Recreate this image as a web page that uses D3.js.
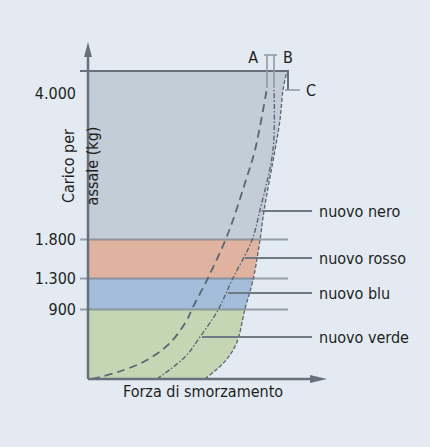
<!DOCTYPE html>
<html>
<head>
<meta charset="utf-8">
<script src="https://cdn.jsdelivr.net/npm/d3@7"></script>
<style>
  body { margin: 0; background: #e3eaf1; }
  text { font-family: "DejaVu Sans Condensed", "Liberation Sans Narrow", sans-serif; font-size: 16px; fill: #1e1e1e; }
</style>
</head>
<body>
<div id="container"></div>
<script>
// carico per asse (kg)
var yTicks = [900, 1300, 1800, 4000]
var yTickLabels = ['900', '1.300', '1.800', '4.000']
var bandBounds = [0, 900, 1300, 1800, 4500]
var bandNames = ['verde', 'blu', 'rosso', 'nero']

// curve: [forza, carico]
var curveA = [[2, 0], [15, 90], [29.5, 244], [41, 463], [49.5, 759], [52, 900], [60, 1300],
  [68.5, 1775], [72.5, 2086], [78.5, 2644], [83.5, 3141], [89.5, 4114]]
var curveB = [[34.5, 0], [48.5, 283], [56, 540], [65, 887], [72, 1274], [82, 1787],
  [86, 2237], [92.5, 3141], [93, 4114]]
var curveC = [[58.5, 0], [64, 116], [69.5, 257], [74.5, 476], [78.5, 900], [82.5, 1274], [86, 1787],
  [88, 2222], [93.5, 3141], [96, 3593], [97.5, 4068], [99.5, 4500]]

var seriesNames = ['nuovo nero', 'nuovo rosso', 'nuovo blu', 'nuovo verde']
var seriesLoads = [2222, 1556, 1106, 540]

var W = 430, H = 447
var svg = d3.select('#container').append('svg')
  .attr('width', W).attr('height', H)

var x = d3.scaleLinear().domain([0, 100]).range([88, 288])
var y = d3.scaleLinear()
  .domain([0, 900, 1300, 1800, 4000, 4500])
  .range([379, 309, 278, 239, 93, 71])

var bandColor = { verde: '#c5d6b5', blu: '#a3bddb', rosso: '#dfb3a0', nero: '#c2cdd7' }
var lineColor = '#66717c'

var line = d3.line()
  .x(d => x(d[0]))
  .y(d => y(d[1]))
  .curve(d3.curveCatmullRom)

// area a sinistra della curva C
var pathC = line(curveC)
svg.append('clipPath').attr('id', 'clipC')
  .append('path')
  .attr('d', 'M' + x(0) + ',' + y(0) + 'L' + pathC.slice(1) + 'L' + x(0) + ',' + y(4500) + 'Z')

var bands = svg.append('g').attr('clip-path', 'url(#clipC)')
bands.selectAll('rect')
  .data(bandNames)
  .enter().append('rect')
  .attr('x', x(0))
  .attr('width', x(100) - x(0) + 2)
  .attr('y', (d, i) => y(bandBounds[i + 1]))
  .attr('height', (d, i) => y(bandBounds[i]) - y(bandBounds[i + 1]))
  .attr('fill', d => bandColor[d])

// linee orizzontali / tick
var yAxis = d3.axisLeft(y)
  .tickValues(yTicks)
  .tickFormat((d, i) => yTickLabels[i])
  .tickSizeInner(-(x(100) - x(0)))
  .tickSizeOuter(0)
  .tickPadding(12)

var ax = svg.append('g')
  .attr('transform', 'translate(' + x(0) + ',0)')
  .call(yAxis)
ax.select('.domain').remove()
ax.selectAll('line')
  .attr('x1', -8)
  .attr('stroke', '#7b8790')
  .attr('stroke-width', 2)
  .attr('stroke-opacity', 0.75)
ax.selectAll('.tick').filter(d => d === 4000).select('line').remove()
ax.selectAll('text')
  .attr('fill', '#1e1e1e')
  .style('font-size', '16px')
  .style('font-family', '"DejaVu Sans Condensed", sans-serif')

// cornice superiore
svg.append('path')
  .attr('d', 'M' + (x(0) - 8) + ',' + y(4500) + 'H' + x(100) + 'V' + y(4068))
  .attr('fill', 'none')
  .attr('stroke', lineColor)
  .attr('stroke-width', 2)

// curve
svg.append('path').attr('d', pathC)
  .attr('fill', 'none').attr('stroke', '#5a6672').attr('stroke-width', 1.3)
  .attr('stroke-dasharray', '4,2')
svg.append('path').attr('d', line(curveB))
  .attr('fill', 'none').attr('stroke', '#5a6672').attr('stroke-width', 1.4)
  .attr('stroke-dasharray', '5,2,1.5,2')
svg.append('path').attr('d', line(curveA))
  .attr('fill', 'none').attr('stroke', '#5a6672').attr('stroke-width', 1.8)
  .attr('stroke-dasharray', '8,5')

// segni A / B in alto
var topA = curveA[curveA.length - 1], topB = curveB[curveB.length - 1]
svg.append('path')
  .attr('d', 'M' + x(topA[0]) + ',' + y(4114) + 'V55M' + x(topB[0]) + ',' + y(4114) + 'V55' +
    'M' + (x(topA[0]) - 3) + ',55H' + (x(topB[0]) + 3))
  .attr('fill', 'none').attr('stroke', '#8f9aa3').attr('stroke-width', 1.6)
svg.append('text').attr('x', x(topA[0]) - 9).attr('y', 63).attr('text-anchor', 'end').text('A')
svg.append('text').attr('x', x(topB[0]) + 9).attr('y', 63).text('B')
svg.append('path')
  .attr('d', 'M' + (x(97.5) + 2) + ',' + y(4068) + 'H300')
  .attr('stroke', '#8f9aa3').attr('stroke-width', 1.6)
svg.append('text').attr('x', 306).attr('y', y(4068)).attr('dy', '0.35em').text('C')

// etichette serie con linee guida dalla curva B
function xOnB(kg) {
  for (var i = 1; i < curveB.length; i++) {
    if (kg <= curveB[i][1]) {
      var a = curveB[i - 1], b = curveB[i]
      var t = (y(kg) - y(a[1])) / (y(b[1]) - y(a[1]))
      return x(a[0]) + t * (x(b[0]) - x(a[0]))
    }
  }
  return x(curveB[curveB.length - 1][0])
}
var lab = svg.append('g').selectAll('g')
  .data(seriesNames)
  .enter().append('g')
lab.append('line')
  .attr('x1', (d, i) => xOnB(seriesLoads[i]) + 2)
  .attr('x2', 312)
  .attr('y1', (d, i) => y(seriesLoads[i]))
  .attr('y2', (d, i) => y(seriesLoads[i]))
  .attr('stroke', '#6f7a84').attr('stroke-width', 2)
lab.append('text')
  .attr('x', 319)
  .attr('y', (d, i) => y(seriesLoads[i]))
  .attr('dy', '0.35em')
  .text(d => d)

// assi con frecce
svg.append('path')
  .attr('d', 'M' + x(0) + ',' + y(0) + 'V54M' + x(0) + ',' + y(0) + 'H318')
  .attr('fill', 'none').attr('stroke', lineColor).attr('stroke-width', 2.5)
svg.append('path')
  .attr('d', 'M' + x(0) + ',42L' + (x(0) - 4) + ',57L' + (x(0) + 4) + ',57Z')
  .attr('fill', lineColor)
svg.append('path')
  .attr('d', 'M327,' + y(0) + 'L310,' + (y(0) - 4) + 'L310,' + (y(0) + 4) + 'Z')
  .attr('fill', lineColor)

svg.append('text')
  .attr('x', 203).attr('y', 397)
  .attr('text-anchor', 'middle')
  .text('Forza di smorzamento')

var yt = svg.append('g').attr('text-anchor', 'middle')
yt.append('text').attr('transform', 'translate(74,166) rotate(-90)').text('Carico per')
yt.append('text').attr('transform', 'translate(98,166) rotate(-90)').text('assale (kg)')
</script>
</body>
</html>
